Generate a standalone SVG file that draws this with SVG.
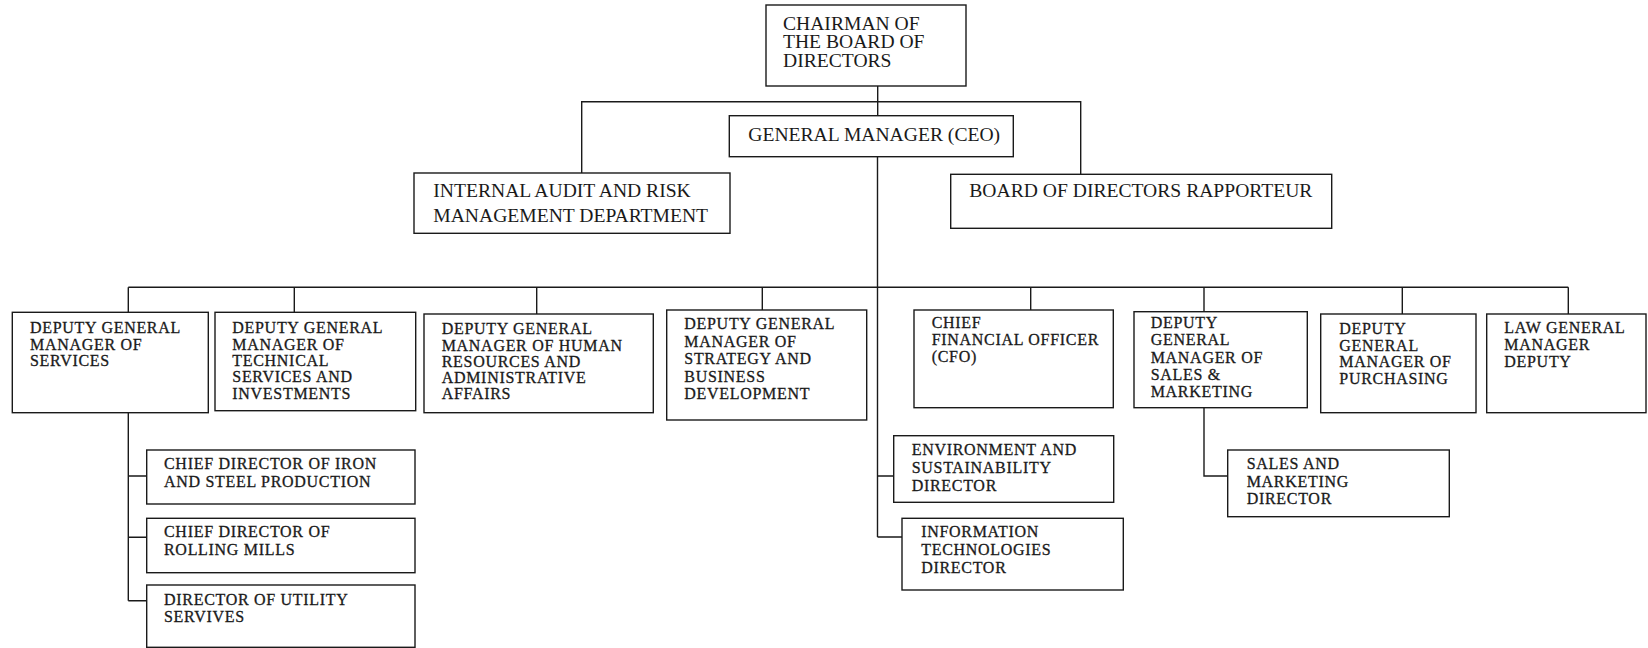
<svg xmlns="http://www.w3.org/2000/svg" width="1648" height="648" viewBox="0 0 1648 648">
<style>
.box{fill:#fff;stroke:#1a1a1a;stroke-width:1.4}
.con{fill:none;stroke:#1a1a1a;stroke-width:1.4}
.t1{font-family:"Liberation Serif","Times New Roman",serif;font-size:19.6px;fill:#1a1a1a}
.t2{font-family:"Liberation Serif","Times New Roman",serif;font-size:16px;letter-spacing:0.7px;fill:#1a1a1a;stroke:#1a1a1a;stroke-width:0.3px}
</style>
<rect width="1648" height="648" fill="#fff"/>
<g id="connectors" class="con">
<path d="M877.7,86V115.7"/>
<path d="M581.7,173V101.7H1080.7V174.3"/>
<path d="M877.5,156.7V537"/>
<path d="M128.3,287.3H1568.3"/>
<path d="M128.3,287.3V312.3M294.3,287.3V312.3M536.7,287.3V314M762.3,287.3V310M1030.7,287.3V310M1204,287.3V311.7M1402.3,287.3V314M1568.3,287.3V314"/>
<path d="M128.3,412.7V600.7M128.3,476H146.7M128.3,537.3H146.7M128.3,600.7H146.7"/>
<path d="M877.5,476H893.7M877.5,537H902"/>
<path d="M1204,407.7V476H1227.7"/>
</g>
<g id="chairman"><rect class="box" x="766" y="5" width="200" height="81"/><text class="t1" x="783"><tspan x="783" y="29.5">CHAIRMAN OF</tspan><tspan x="783" y="48.3">THE BOARD OF</tspan><tspan x="783" y="67">DIRECTORS</tspan></text></g>
<g id="ceo"><rect class="box" x="729.3" y="115.7" width="284" height="41"/><text class="t1" x="748.3" y="140.7">GENERAL MANAGER (CEO)</text></g>
<g id="internal-audit"><rect class="box" x="414" y="173" width="316" height="60.3"/><text class="t1"><tspan x="433.3" y="196.7">INTERNAL AUDIT AND RISK</tspan><tspan x="433.3" y="222">MANAGEMENT DEPARTMENT</tspan></text></g>
<g id="rapporteur"><rect class="box" x="950.7" y="174.3" width="381" height="54"/><text class="t1" x="969.3" y="197.3">BOARD OF DIRECTORS RAPPORTEUR</text></g>
<g id="dgm-services"><rect class="box" x="12.3" y="312.3" width="196" height="100.4"/><text class="t2"><tspan x="30" y="333.3">DEPUTY GENERAL</tspan><tspan x="30" y="349.8">MANAGER OF</tspan><tspan x="30" y="366.3">SERVICES</tspan></text></g>
<g id="dgm-technical"><rect class="box" x="215" y="312.3" width="200.7" height="98.4"/><text class="t2"><tspan x="232.3" y="333.3">DEPUTY GENERAL</tspan><tspan x="232.3" y="349.6">MANAGER OF</tspan><tspan x="232.3" y="365.9">TECHNICAL</tspan><tspan x="232.3" y="382.2">SERVICES AND</tspan><tspan x="232.3" y="398.5">INVESTMENTS</tspan></text></g>
<g id="dgm-hr"><rect class="box" x="424" y="314" width="229.3" height="98.7"/><text class="t2"><tspan x="441.7" y="334.3">DEPUTY GENERAL</tspan><tspan x="441.7" y="350.5">MANAGER OF HUMAN</tspan><tspan x="441.7" y="366.7">RESOURCES AND</tspan><tspan x="441.7" y="382.9">ADMINISTRATIVE</tspan><tspan x="441.7" y="399.1">AFFAIRS</tspan></text></g>
<g id="dgm-strategy"><rect class="box" x="666.7" y="310" width="200" height="110"/><text class="t2"><tspan x="684.3" y="329">DEPUTY GENERAL</tspan><tspan x="684.3" y="346.5">MANAGER OF</tspan><tspan x="684.3" y="364">STRATEGY AND</tspan><tspan x="684.3" y="381.5">BUSINESS</tspan><tspan x="684.3" y="399">DEVELOPMENT</tspan></text></g>
<g id="cfo"><rect class="box" x="914" y="310" width="199.3" height="97.7"/><text class="t2"><tspan x="931.7" y="328.3">CHIEF</tspan><tspan x="931.7" y="345">FINANCIAL OFFICER</tspan><tspan x="931.7" y="361.7">(CFO)</tspan></text></g>
<g id="dgm-sales"><rect class="box" x="1134" y="311.7" width="173.3" height="96"/><text class="t2"><tspan x="1150.7" y="328.3">DEPUTY</tspan><tspan x="1150.7" y="345.4">GENERAL</tspan><tspan x="1150.7" y="362.5">MANAGER OF</tspan><tspan x="1150.7" y="379.6">SALES &amp;</tspan><tspan x="1150.7" y="396.7">MARKETING</tspan></text></g>
<g id="dgm-purchasing"><rect class="box" x="1320.7" y="314" width="155.3" height="98.7"/><text class="t2"><tspan x="1339.3" y="334.3">DEPUTY</tspan><tspan x="1339.3" y="350.7">GENERAL</tspan><tspan x="1339.3" y="367.1">MANAGER OF</tspan><tspan x="1339.3" y="383.5">PURCHASING</tspan></text></g>
<g id="law-deputy"><rect class="box" x="1486.7" y="314" width="159.3" height="98.7"/><text class="t2"><tspan x="1504.3" y="333.3">LAW GENERAL</tspan><tspan x="1504.3" y="350">MANAGER</tspan><tspan x="1504.3" y="366.7">DEPUTY</tspan></text></g>
<g id="iron-steel"><rect class="box" x="146.7" y="450" width="268.3" height="54"/><text class="t2"><tspan x="164" y="469.3">CHIEF DIRECTOR OF IRON</tspan><tspan x="164" y="486.7">AND STEEL PRODUCTION</tspan></text></g>
<g id="rolling-mills"><rect class="box" x="146.7" y="518.3" width="268.3" height="54.4"/><text class="t2"><tspan x="164" y="537.3">CHIEF DIRECTOR OF</tspan><tspan x="164" y="555">ROLLING MILLS</tspan></text></g>
<g id="utility"><rect class="box" x="146.7" y="585" width="268.3" height="62.3"/><text class="t2"><tspan x="164" y="605">DIRECTOR OF UTILITY</tspan><tspan x="164" y="621.7">SERVIVES</tspan></text></g>
<g id="environment"><rect class="box" x="893.7" y="435.7" width="220" height="66.6"/><text class="t2"><tspan x="911.7" y="455">ENVIRONMENT AND</tspan><tspan x="911.7" y="472.7">SUSTAINABILITY</tspan><tspan x="911.7" y="490.5">DIRECTOR</tspan></text></g>
<g id="it"><rect class="box" x="902" y="518.3" width="221.3" height="71.7"/><text class="t2"><tspan x="921.2" y="537.3">INFORMATION</tspan><tspan x="921.2" y="555">TECHNOLOGIES</tspan><tspan x="921.2" y="573">DIRECTOR</tspan></text></g>
<g id="sales-director"><rect class="box" x="1227.7" y="450" width="221.6" height="66.7"/><text class="t2"><tspan x="1246.7" y="469.3">SALES AND</tspan><tspan x="1246.7" y="486.7">MARKETING</tspan><tspan x="1246.7" y="504.3">DIRECTOR</tspan></text></g>
</svg>
